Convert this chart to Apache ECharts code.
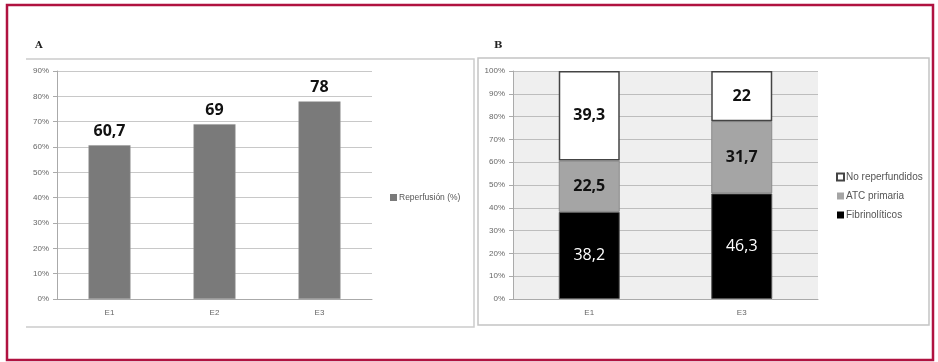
<!DOCTYPE html>
<html style="height: 100%">
<head>
    <meta charset="utf-8">
</head>
<body style="height: 100%; margin: 0; background: #fff">
    <div id="container" style="width: 938px; height: 362px"></div>
    <script type="text/javascript" src="https://cdn.jsdelivr.net/npm/echarts@6/dist/echarts.min.js"></script>
    <script type="text/javascript">
        // panel A
        var catsA = ['E1', 'E2', 'E3'];
        var reperfusion = [60.7, 69, 78];
        // panel B
        var catsB = ['E1', 'E3'];
        var fibrinoliticos = [38.2, 46.3];
        var atcPrimaria = [22.5, 31.7];
        var noReperfundidos = [39.3, 22];

        var dom = document.getElementById("container");
        var myChart = echarts.init(dom);

        function coma(p) {
            return String(p.value).replace('.', ',');
        }
        var smallText = { fontSize: 8, color: '#666', fontFamily: 'Liberation Sans' };
        var bigLabel = { show: true, fontSize: 16, fontWeight: 'bold', fontFamily: 'Open Sans', formatter: coma };

        option = {
            backgroundColor: '#fff',
            animation: false,
            title: [
                { text: 'A', left: 30, top: 35, textStyle: { fontSize: 10, fontWeight: 'bold', fontFamily: 'DejaVu Serif', color: '#222' } },
                { text: 'B', left: 489, top: 35, textStyle: { fontSize: 10, fontWeight: 'bold', fontFamily: 'DejaVu Serif', color: '#222' } }
            ],
            graphic: [
                // marco exterior
                { type: 'rect', shape: { x: 7, y: 5, width: 926, height: 355 }, style: { fill: 'none', stroke: '#b01240', lineWidth: 2.5 } },
                // panel A
                { type: 'polyline', shape: { points: [[26, 59], [474, 59], [474, 327], [26, 327]] }, style: { fill: 'none', stroke: '#cccccc', lineWidth: 1.5 } },
                // panel B
                { type: 'rect', shape: { x: 478, y: 58, width: 451, height: 267 }, style: { fill: 'none', stroke: '#c4c4c4', lineWidth: 1.5 } }
            ],
            legend: [
                {
                    data: [{ name: 'Reperfusión (%)', itemStyle: { borderWidth: 0 } }],
                    left: 385, top: 188,
                    itemWidth: 7, itemHeight: 7,
                    icon: 'rect',
                    textStyle: { fontSize: 8.5, color: '#555', fontFamily: 'Liberation Sans', padding: [0, 0, 0, -3] }
                },
                {
                    data: [
                        { name: 'No reperfundidos' },
                        { name: 'ATC primaria', itemStyle: { borderWidth: 0 } },
                        { name: 'Fibrinolíticos', itemStyle: { borderWidth: 0 } }
                    ],
                    orient: 'vertical',
                    left: 831, top: 167,
                    itemGap: 9,
                    itemWidth: 7, itemHeight: 7,
                    icon: 'rect',
                    textStyle: { fontSize: 10, color: '#555', fontFamily: 'Liberation Sans', padding: [0, 0, 0, -3] }
                }
            ],
            grid: [
                { left: 57, top: 71, width: 315, height: 228 },
                { left: 513, top: 71, width: 305, height: 228, show: true, backgroundColor: '#efefef', borderWidth: 0 }
            ],
            xAxis: [
                {
                    type: 'category', gridIndex: 0, data: catsA,
                    axisLine: { lineStyle: { color: '#aaa' } },
                    axisTick: { length: 4, lineStyle: { color: '#aaa' } },
                    axisLabel: Object.assign({ margin: 10 }, smallText)
                },
                {
                    type: 'category', gridIndex: 1, data: catsB,
                    axisLine: { lineStyle: { color: '#aaa' } },
                    axisTick: { length: 4, lineStyle: { color: '#aaa' } },
                    axisLabel: Object.assign({ margin: 10 }, smallText)
                }
            ],
            yAxis: [
                {
                    type: 'value', gridIndex: 0, min: 0, max: 90, interval: 10,
                    axisLine: { show: true, lineStyle: { color: '#aaa' } },
                    axisTick: { show: true, length: 4, lineStyle: { color: '#aaa' } },
                    axisLabel: Object.assign({ formatter: '{value}%', margin: 8 }, smallText),
                    splitLine: { lineStyle: { color: '#c8c8c8' } }
                },
                {
                    type: 'value', gridIndex: 1, min: 0, max: 100, interval: 10,
                    axisLine: { show: true, lineStyle: { color: '#aaa' } },
                    axisTick: { show: true, length: 4, lineStyle: { color: '#aaa' } },
                    axisLabel: Object.assign({ formatter: '{value}%', margin: 8 }, smallText),
                    splitLine: { lineStyle: { color: '#bdbdbd' } }
                }
            ],
            series: [
                {
                    name: 'Reperfusión (%)', type: 'bar', xAxisIndex: 0, yAxisIndex: 0,
                    data: reperfusion, barWidth: '40%',
                    itemStyle: { color: '#7a7a7a', borderColor: '#999', borderWidth: 0.5 },
                    label: Object.assign({ position: 'top', color: '#111', distance: 6 }, bigLabel)
                },
                {
                    name: 'Fibrinolíticos', type: 'bar', xAxisIndex: 1, yAxisIndex: 1, stack: 'b',
                    data: fibrinoliticos, barWidth: '40%',
                    itemStyle: { color: '#000', borderColor: '#555', borderWidth: 1 },
                    label: { show: true, position: 'inside', color: '#fff', fontSize: 16, fontFamily: 'Open Sans', formatter: coma }
                },
                {
                    name: 'ATC primaria', type: 'bar', xAxisIndex: 1, yAxisIndex: 1, stack: 'b',
                    data: atcPrimaria, barWidth: '40%',
                    itemStyle: { color: '#a5a5a5', borderColor: '#8a8a8a', borderWidth: 1 },
                    label: Object.assign({ position: 'inside', color: '#111' }, bigLabel)
                },
                {
                    name: 'No reperfundidos', type: 'bar', xAxisIndex: 1, yAxisIndex: 1, stack: 'b',
                    data: noReperfundidos, barWidth: '40%',
                    itemStyle: { color: '#fff', borderColor: '#444', borderWidth: 1.5 },
                    label: Object.assign({ position: 'inside', color: '#111' }, bigLabel)
                }
            ]
        };

        if (option && typeof option === "object") {
            myChart.setOption(option, true);
        }
    </script>
</body>
</html>
